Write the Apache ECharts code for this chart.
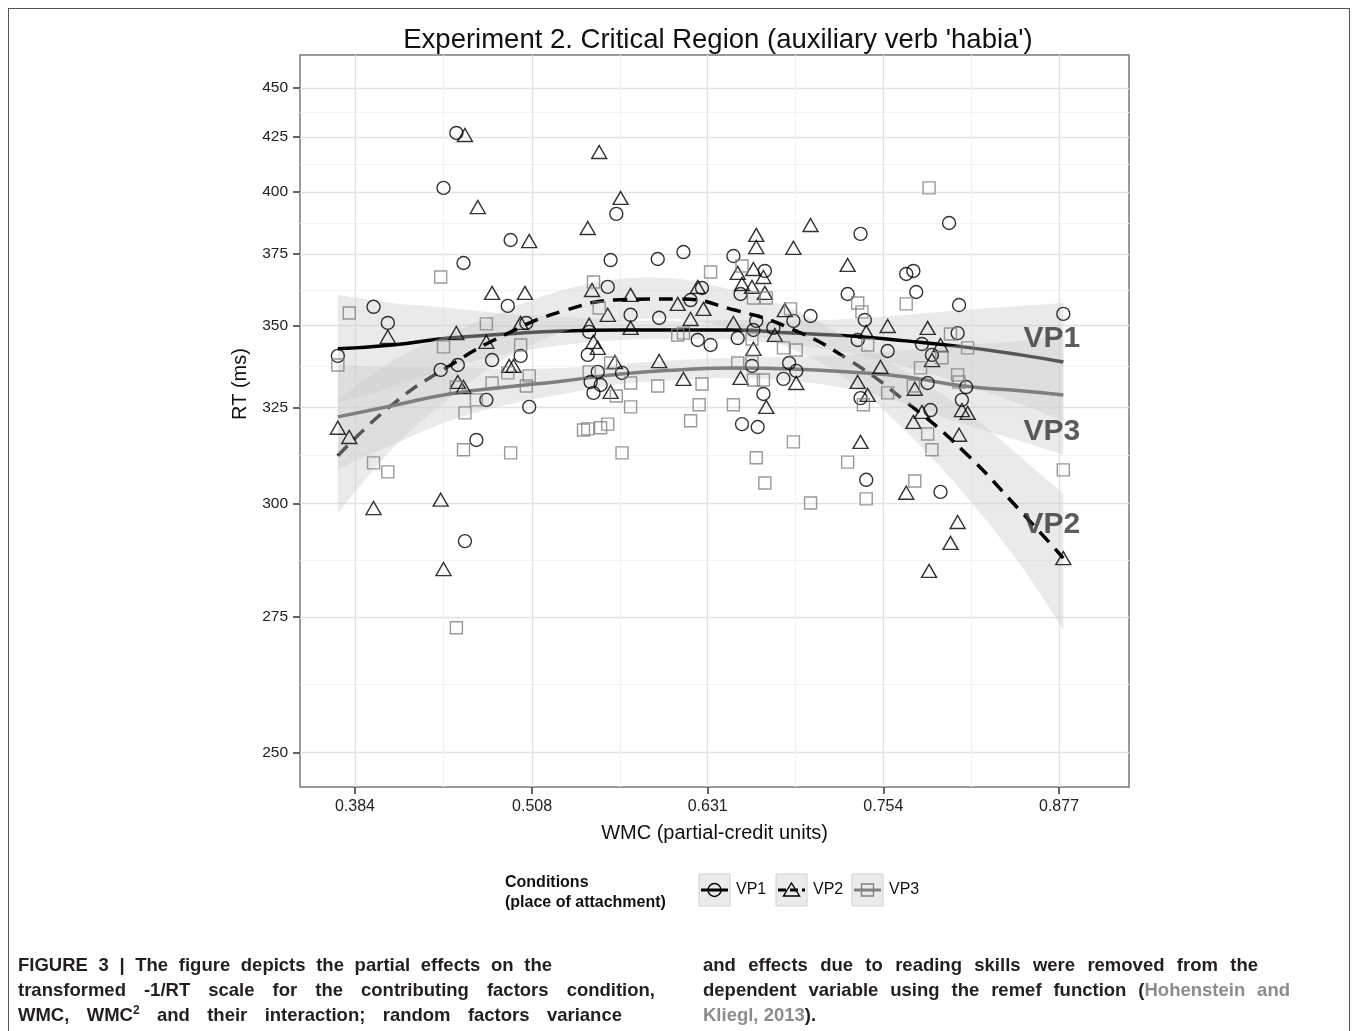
<!DOCTYPE html>
<html><head><meta charset="utf-8">
<script src="https://cdn.jsdelivr.net/npm/echarts@6/dist/echarts.min.js"></script>
<style>
html,body{margin:0;padding:0;background:#fff;}
#wrap{position:relative;width:1358px;height:1031px;overflow:hidden;background:#fff;}
#chart{position:absolute;left:0;top:0;width:1358px;height:1031px;}
#frame{position:absolute;left:8px;top:8px;width:1342px;height:1100px;border:1.5px solid #555;box-sizing:border-box;pointer-events:none;}
.cap{position:absolute;font-family:"Liberation Sans Narrow","Liberation Sans",Arial,sans-serif;font-weight:bold;font-size:18.5px;font-stretch:condensed;color:#231f20;white-space:nowrap;line-height:22px;}
.j{text-align:justify;text-align-last:justify;}
.ref{color:#8c8c8c;}
sup{font-size:12px;line-height:0;vertical-align:7px;}
</style></head><body>
<div id="wrap">
<div id="chart"></div>
<div id="frame"></div>
<div class="cap j" style="left:18px;top:954px;width:534px">FIGURE 3 | The figure depicts the partial effects on the</div>
<div class="cap j" style="left:18px;top:979px;width:637px">transformed -1/RT scale for the contributing factors condition,</div>
<div class="cap j" style="left:18px;top:1004px;width:604px">WMC, WMC<sup>2</sup> and their interaction; random factors variance</div>
<div class="cap j" style="left:703px;top:954px;width:555px">and effects due to reading skills were removed from the</div>
<div class="cap j" style="left:703px;top:979px;width:587px">dependent variable using the remef function (<span class="ref">Hohenstein and</span></div>
<div class="cap" style="left:703px;top:1004px;"><span class="ref">Kliegl, 2013</span>).</div>
</div>
<script>
// ---------------- data ----------------
const yTicksRT = [250, 275, 300, 325, 350, 375, 400, 425, 450];
const xTicks = [0.384, 0.508, 0.631, 0.754, 0.877];
const xLimits = [0.3455, 0.926];
const yLimitsRT = [244.4, 468.6];

// VP1 (circles): [WMC, RT]
const vp1Points = [[0.372,340.3],[0.397,356.2],[0.407,350.8],[0.444,336.0],[0.446,401.7],[0.455,426.9],[0.456,337.5],[0.460,371.7],[0.461,291.2],[0.469,316.1],[0.476,327.2],[0.480,339.0],[0.491,356.5],[0.493,380.4],[0.500,340.3],[0.504,350.8],[0.506,325.2],[0.548,347.9],[0.547,340.6],[0.554,335.4],[0.549,332.4],[0.556,331.5],[0.551,329.2],[0.561,363.1],[0.563,372.8],[0.567,390.8],[0.571,335.1],[0.577,353.5],[0.596,373.2],[0.597,352.5],[0.614,375.8],[0.619,358.5],[0.624,345.3],[0.633,343.7],[0.627,362.7],[0.649,374.3],[0.652,345.9],[0.654,360.6],[0.655,320.4],[0.666,319.6],[0.662,337.2],[0.663,348.5],[0.665,351.5],[0.671,368.8],[0.670,328.9],[0.677,349.2],[0.684,333.3],[0.688,338.1],[0.693,335.7],[0.691,351.5],[0.703,353.1],[0.729,360.6],[0.736,345.3],[0.738,382.8],[0.741,351.8],[0.738,327.7],[0.742,305.8],[0.770,367.7],[0.775,368.8],[0.777,361.3],[0.757,341.8],[0.781,344.0],[0.785,332.1],[0.787,324.3],[0.788,340.6],[0.794,302.8],[0.800,387.1],[0.806,347.5],[0.807,356.8],[0.809,327.2],[0.812,330.9],[0.880,353.8]];
// VP2 (triangles)
const vp2Points = [[0.372,319.4],[0.380,316.9],[0.397,298.9],[0.407,346.3],[0.444,300.9],[0.446,285.0],[0.455,347.5],[0.456,332.4],[0.460,330.9],[0.461,425.9],[0.470,393.6],[0.476,344.7],[0.480,361.0],[0.492,337.2],[0.495,337.2],[0.500,350.8],[0.503,361.0],[0.506,380.0],[0.547,385.1],[0.548,350.2],[0.550,362.0],[0.551,344.7],[0.554,342.8],[0.555,417.8],[0.561,353.5],[0.563,329.5],[0.566,338.4],[0.570,397.4],[0.577,349.2],[0.577,360.3],[0.597,338.7],[0.610,357.2],[0.614,333.3],[0.619,352.1],[0.624,363.1],[0.628,355.5],[0.649,350.8],[0.652,368.1],[0.654,333.6],[0.655,364.1],[0.662,363.1],[0.663,369.5],[0.663,342.5],[0.665,382.4],[0.665,377.7],[0.670,366.6],[0.671,361.0],[0.672,325.2],[0.678,346.9],[0.685,355.1],[0.691,377.4],[0.693,332.1],[0.703,386.3],[0.729,371.0],[0.736,332.4],[0.738,315.6],[0.742,347.9],[0.743,328.6],[0.752,336.9],[0.757,349.8],[0.770,302.6],[0.775,321.0],[0.776,330.4],[0.781,323.8],[0.785,349.2],[0.786,284.6],[0.788,339.0],[0.794,343.7],[0.801,290.8],[0.806,295.6],[0.807,317.5],[0.809,324.3],[0.813,323.5],[0.880,287.4]];
// VP3 (squares)
const vp3Points = [[0.372,337.5],[0.380,354.1],[0.397,310.1],[0.407,307.8],[0.444,366.6],[0.446,343.1],[0.455,272.8],[0.455,330.9],[0.460,313.5],[0.461,323.5],[0.469,327.2],[0.476,350.5],[0.480,332.1],[0.491,335.1],[0.493,312.7],[0.500,343.7],[0.504,331.2],[0.506,334.2],[0.544,318.8],[0.547,319.1],[0.548,335.4],[0.551,364.8],[0.555,355.8],[0.556,319.4],[0.561,320.4],[0.563,338.1],[0.567,328.3],[0.571,312.7],[0.577,332.1],[0.577,325.2],[0.596,331.2],[0.610,346.9],[0.614,347.5],[0.619,321.3],[0.625,325.8],[0.627,331.8],[0.633,368.4],[0.649,325.8],[0.652,338.1],[0.655,370.6],[0.662,345.6],[0.662,338.4],[0.663,359.2],[0.663,333.0],[0.665,311.4],[0.670,333.0],[0.671,305.0],[0.672,359.2],[0.684,342.8],[0.689,355.5],[0.691,315.6],[0.693,342.1],[0.703,300.1],[0.729,310.3],[0.736,357.5],[0.739,354.5],[0.740,325.8],[0.742,301.1],[0.743,343.7],[0.757,329.2],[0.770,357.2],[0.775,331.2],[0.776,305.5],[0.780,336.6],[0.785,317.7],[0.786,401.7],[0.788,313.5],[0.795,339.7],[0.801,347.2],[0.806,334.5],[0.807,332.4],[0.813,342.8],[0.880,308.3]];

// fitted curves and confidence bands (RT), sampled along WMC
const wmcSample = [0.372, 0.41, 0.45, 0.49, 0.53, 0.57, 0.61, 0.65, 0.69, 0.73, 0.77, 0.81, 0.85, 0.88];
const vp1Fit   = [342.5, 343.7, 345.9, 347.2, 348.2, 348.5, 348.5, 348.5, 347.5, 346.6, 345.0, 343.1, 340.6, 338.4];
const vp1Upper = [360.3, 357.5, 355.8, 353.8, 352.8, 351.8, 351.5, 351.8, 351.5, 352.1, 353.5, 355.1, 356.5, 357.5];
const vp1Lower = [326.3, 330.9, 336.6, 340.9, 343.7, 345.3, 345.6, 345.3, 343.7, 341.2, 336.9, 331.8, 326.0, 321.3];
const vp2Fit   = [311.9, 325.8, 337.2, 347.2, 354.8, 358.6, 358.9, 355.1, 348.8, 339.0, 326.6, 313.2, 298.2, 287.4];
const vp2Upper = [327.5, 338.7, 347.2, 355.1, 362.0, 365.9, 365.9, 361.7, 355.5, 345.6, 335.4, 324.6, 311.6, 302.3];
const vp2Lower = [297.7, 313.7, 327.7, 339.7, 347.9, 351.5, 352.1, 348.8, 342.5, 332.7, 318.3, 302.6, 285.9, 272.4];
const vp3Fit   = [322.4, 325.5, 328.9, 330.9, 332.7, 334.8, 336.0, 336.6, 336.3, 335.4, 333.9, 331.2, 329.8, 328.6];
const vp3Upper = [337.5, 336.9, 336.9, 336.3, 336.6, 337.8, 339.0, 339.7, 340.0, 340.6, 342.1, 343.7, 345.0, 346.9];
const vp3Lower = [308.6, 314.8, 321.3, 325.8, 328.9, 331.8, 333.0, 333.6, 332.7, 330.4, 326.0, 320.4, 315.8, 312.2];

const curveLabels = ['VP1', 'VP3', 'VP2'];
const curveLabelAt = [[0.872, 345.6], [0.872, 318.3], [0.872, 294.9]];

const titleText = "Experiment 2. Critical Region (auxiliary verb 'habia')";
const legendNames = ['VP1', 'VP2', 'VP3'];

// ---------------- build ----------------
const tr = rt => -1000 / rt;               // -1/RT scale (x1000)
const yMajor = yTicksRT.map(tr);
const yMinor = yMajor.slice(1).map((v, i) => (v + yMajor[i]) / 2);
const xMinor = xTicks.slice(1).map((v, i) => (v + xTicks[i]) / 2);
const FONT = '"Liberation Sans", Arial, sans-serif';
const ribbonFill = 'rgba(205,205,205,0.42)';

// Catmull-Rom smoothing of pixel points (drawing only)
function smoothPts(p) {
  const out = [];
  const n = p.length;
  for (let i = 0; i < n - 1; i++) {
    const p0 = p[Math.max(i - 1, 0)], p1 = p[i], p2 = p[i + 1], p3 = p[Math.min(i + 2, n - 1)];
    for (let k = 0; k < 12; k++) {
      const t = k / 12, t2 = t * t, t3 = t2 * t;
      const f = d => 0.5 * (2 * p1[d] + (-p0[d] + p2[d]) * t + (2 * p0[d] - 5 * p1[d] + 4 * p2[d] - p3[d]) * t2 + (-p0[d] + 3 * p1[d] - 3 * p2[d] + p3[d]) * t3);
      out.push([f(0), f(1)]);
    }
  }
  out.push(p[n - 1]);
  return out;
}
function ribbonSeries(lower, upper, z) {
  return {
    type: 'custom', silent: true, clip: true, z: z,
    data: wmcSample.map((x, i) => [x, tr(lower[i]), tr(upper[i])]),
    encode: { x: 0, y: [1, 2] },
    renderItem: function (params, api) {
      if (params.dataIndex !== 0) return null;
      const up = wmcSample.map((x, i) => api.coord([x, tr(upper[i])]));
      const lo = wmcSample.map((x, i) => api.coord([x, tr(lower[i])]));
      const pts = smoothPts(up).concat(smoothPts(lo).reverse());
      return { type: 'polygon', shape: { points: pts }, style: { fill: ribbonFill, stroke: null } };
    }
  };
}
function fitSeries(fit, color, type, z) {
  return { type: 'line', smooth: true, symbol: 'none', silent: true, z: z,
    lineStyle: { color: color, width: 3.5, type: type },
    data: wmcSample.map((x, i) => [x, tr(fit[i])]) };
}
function pointSeries(name, pts, symbol, size, color) {
  return { name: name, type: 'scatter', symbol: symbol, symbolSize: size, silent: true, z: 10,
    itemStyle: { color: 'rgba(0,0,0,0)', borderColor: color, borderWidth: 1.4 },
    data: pts.map(p => [p[0], tr(p[1])]) };
}

const chart = echarts.init(document.getElementById('chart'), null, { renderer: 'canvas' });

// legend graphic
const legendTop = 874, boxW = 31, boxH = 32;
const boxX = [699, 776, 852];
const legendChildren = [
  { type: 'text', x: 505, y: 883, style: { text: 'Conditions', font: 'bold 16px ' + FONT, fill: '#111', align: 'left', verticalAlign: 'middle' } },
  { type: 'text', x: 505, y: 903, style: { text: '(place of attachment)', font: 'bold 16px ' + FONT, fill: '#111', align: 'left', verticalAlign: 'middle' } }
];
legendNames.forEach((nm, i) => {
  const bx = boxX[i], cy = legendTop + boxH / 2, cx = bx + boxW / 2;
  const col = i === 2 ? '#808080' : '#000';
  legendChildren.push({ type: 'rect', shape: { x: bx, y: legendTop, width: boxW, height: boxH }, style: { fill: '#ebebeb', stroke: '#d0d0d0', lineWidth: 1 } });
  legendChildren.push({ type: 'line', shape: { x1: bx + 2, y1: cy, x2: bx + boxW - 2, y2: cy }, style: { stroke: col, lineWidth: 3, lineDash: i === 1 ? [8, 4] : null } });
  if (i === 0) legendChildren.push({ type: 'circle', shape: { cx: cx, cy: cy, r: 6.5 }, style: { fill: 'none', stroke: col, lineWidth: 1.4 } });
  if (i === 1) legendChildren.push({ type: 'polygon', shape: { points: [[cx, cy - 7], [cx + 8, cy + 6], [cx - 8, cy + 6]] }, style: { fill: 'none', stroke: col, lineWidth: 1.4 } });
  if (i === 2) legendChildren.push({ type: 'rect', shape: { x: cx - 6, y: cy - 6, width: 12, height: 12 }, style: { fill: 'none', stroke: col, lineWidth: 1.4 } });
  legendChildren.push({ type: 'text', x: bx + boxW + 6, y: cy, style: { text: nm, font: '16px ' + FONT, fill: '#111', align: 'left', verticalAlign: 'middle' } });
});

const option = {
  animation: false,
  backgroundColor: '#fff',
  textStyle: { fontFamily: FONT },
  grid: { left: 300, top: 55, width: 829, height: 732, show: true, borderColor: '#7a7a7a', borderWidth: 1.5, backgroundColor: '#fff' },
  xAxis: [
    { type: 'value', min: xLimits[0], max: xLimits[1],
      axisLine: { show: false, onZero: false },
      axisTick: { show: true, length: 7, lineStyle: { color: '#333', width: 1.5 }, customValues: xTicks },
      axisLabel: { customValues: xTicks, formatter: v => v.toFixed(3), fontSize: 16, color: '#222', margin: 12, fontFamily: FONT },
      splitLine: { show: true, lineStyle: { color: '#e2e2e2', width: 1.3 } },
      name: 'WMC (partial-credit units)', nameLocation: 'middle', nameGap: 36,
      nameTextStyle: { fontSize: 20, color: '#111', fontFamily: FONT } },
    { type: 'value', min: xLimits[0], max: xLimits[1], position: 'bottom',
      axisLine: { show: false, onZero: false }, axisTick: { show: false, customValues: xMinor },
      axisLabel: { show: false, customValues: xMinor },
      splitLine: { show: true, lineStyle: { color: '#f2f2f2', width: 1.2 } } }
  ],
  yAxis: [
    { type: 'value', min: tr(yLimitsRT[0]), max: tr(yLimitsRT[1]),
      axisLine: { show: false, onZero: false },
      axisTick: { show: true, length: 7, lineStyle: { color: '#333', width: 1.5 }, customValues: yMajor },
      axisLabel: { customValues: yMajor, formatter: v => String(Math.round(-1000 / v)), fontSize: 15.5, color: '#222', margin: 12, fontFamily: FONT },
      splitLine: { show: true, lineStyle: { color: '#e2e2e2', width: 1.3 } } },
    { type: 'value', min: tr(yLimitsRT[0]), max: tr(yLimitsRT[1]), position: 'left',
      axisLine: { show: false, onZero: false }, axisTick: { show: false, customValues: yMinor },
      axisLabel: { show: false, customValues: yMinor },
      splitLine: { show: true, lineStyle: { color: '#f2f2f2', width: 1.2 } } }
  ],
  graphic: [
    { type: 'text', x: 718, y: 40, style: { text: titleText, font: '27.5px ' + FONT, fill: '#111', align: 'center', verticalAlign: 'middle' } },
    { type: 'text', x: 240, y: 384, rotation: Math.PI / 2, style: { text: 'RT (ms)', font: '20px ' + FONT, fill: '#111', align: 'center', verticalAlign: 'middle' } },
    { type: 'group', children: legendChildren }
  ],
  series: [
    ribbonSeries(vp1Lower, vp1Upper, 3),
    fitSeries(vp1Fit, '#000', 'solid', 4),
    ribbonSeries(vp2Lower, vp2Upper, 5),
    fitSeries(vp2Fit, '#000', [14, 9], 6),
    ribbonSeries(vp3Lower, vp3Upper, 7),
    fitSeries(vp3Fit, '#7f7f7f', 'solid', 8),
    pointSeries('VP1', vp1Points, 'circle', 13, '#000'),
    pointSeries('VP2', vp2Points, 'triangle', [15, 13], '#000'),
    pointSeries('VP3', vp3Points, 'rect', 12, '#808080'),
    { type: 'scatter', symbol: 'circle', symbolSize: 1, silent: true, z: 11,
      itemStyle: { color: 'rgba(0,0,0,0)' },
      label: { show: true, position: 'inside', formatter: p => p.data[2], fontSize: 30, fontWeight: 'bold', color: '#333', fontFamily: FONT },
      data: curveLabelAt.map((p, i) => [p[0], tr(p[1]), curveLabels[i]]) }
  ]
};
chart.setOption(option);
</script>
</body></html>
